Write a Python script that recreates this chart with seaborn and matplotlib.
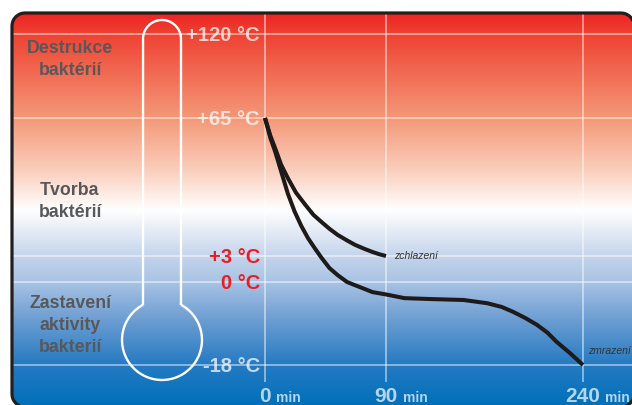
import numpy as np
import matplotlib
matplotlib.use("Agg")
import matplotlib.pyplot as plt
import seaborn as sns
from matplotlib import transforms
from matplotlib.patches import PathPatch
from matplotlib.path import Path

# data
time_ticks = [0, 90, 240]
temp_ticks = [-18, 0, 3, 65, 120]
temp_labels = ["-18 °C", "0 °C", "+3 °C", "+65 °C", "+120 °C"]
zone_lines = ["Destrukce", "baktérií", "Tvorba", "baktérií",
              "Zastavení", "aktivity", "bakterií"]

cool_min = [0, 4, 7.5, 12, 17, 23, 30, 36, 42, 48, 54, 61, 67, 74, 80, 85, 90]
cool_temp = [65, 57, 51.5, 44, 38, 31.5, 26, 21.5, 18.3, 15.2, 12.5, 10, 8.0, 6.2, 4.8, 3.8, 3]
freeze_min = [0, 4, 7.5, 12.5, 17, 22, 27, 32, 37, 42, 48, 54, 61, 67, 74, 80, 90,
              104, 124, 149, 167, 178, 187, 196, 205, 213, 220, 230, 240]
freeze_temp = [65, 56, 50, 40, 31, 23, 16.5, 11, 6.5, 2.8, 1.6, 0.8, 0.0, -0.7, -1.5, -2.2, -2.7,
               -3.5, -3.7, -3.9, -4.6, -5.4, -6.5, -7.8, -9.3, -11.0, -13.0, -15.4, -18]

# layout in pixels (y measured from the top)
W, H = 632, 405
x_px = [265, 386, 583]
y_px = [365, 282, 256, 118, 34]
zone_baselines = [53, 75, 195, 217, 308, 330, 352]
grad_y = [13, 34, 118, 170, 210, 256, 282, 320, 365, 405]
grad_rgb = [(237, 35, 36), (239, 66, 50), (244, 152, 120), (250, 206, 188), (255, 255, 255),
            (196, 212, 235), (168, 195, 228), (108, 157, 210), (36, 122, 194), (0, 112, 186)]


def piecewise(vals, pos):
    vals = np.asarray(vals, float)
    pos = np.asarray(pos, float)
    s0 = (pos[1] - pos[0]) / (vals[1] - vals[0])
    s1 = (pos[-1] - pos[-2]) / (vals[-1] - vals[-2])
    v = np.r_[vals[0] - 1e4, vals, vals[-1] + 1e4]
    p = np.r_[pos[0] - 1e4 * s0, pos, pos[-1] + 1e4 * s1]
    return (lambda a: np.interp(a, v, p)), (lambda a: np.interp(a, p, v))


def rounded_rect(x0, y0, x1, y1, r):
    pts = []
    for cx, cy, a0 in [(x1 - r, y0 + r, 90), (x1 - r, y1 - r, 0),
                       (x0 + r, y1 - r, -90), (x0 + r, y0 + r, -180)]:
        a = np.radians(np.linspace(a0, a0 - 90, 12))
        pts.append(np.c_[cx + r * np.cos(a), cy - r * np.sin(a)])
    pts = np.vstack(pts + [pts[0][:1]])
    return Path(pts, closed=True)


fx, fx_inv = piecewise(time_ticks, x_px)
fy, fy_inv = piecewise(temp_ticks, [H - y for y in y_px])

sns.set_style("white")
plt.rcParams["font.family"] = ["Liberation Sans", "DejaVu Sans"]

fig = plt.figure(figsize=(6.32, 4.05), dpi=100)
ax = fig.add_axes([0, 0, 1, 1])
px = transforms.Affine2D().scale(1 / W, -1 / H).translate(0, 1) + fig.transFigure

panel = PathPatch(rounded_rect(12, 13, 634, 407, 13), transform=px, facecolor="none",
                  edgecolor="#231f20", lw=2.3, zorder=10, clip_on=False)
ax.add_patch(panel)

# background gradient
rows = np.arange(H) + 0.5
grad = np.stack([np.interp(rows, grad_y, [c[i] for c in grad_rgb]) for i in range(3)], axis=-1) / 255
im = ax.imshow(grad[:, None, :], extent=[0, 1, 0, 1], transform=ax.transAxes,
               aspect="auto", origin="upper", interpolation="bilinear", zorder=0)
im.set_clip_path(panel)

# curves
for xs, ys in [(cool_min, cool_temp), (freeze_min, freeze_temp)]:
    sns.lineplot(x=xs, y=ys, ax=ax, color="#1e1a1a", lw=2.9, sort=False,
                 estimator=None, zorder=5, solid_joinstyle="round", solid_capstyle="butt")

ax.set_xscale("function", functions=(fx, fx_inv))
ax.set_yscale("function", functions=(fy, fy_inv))
ax.set_xlim(fx_inv(0), fx_inv(W))
ax.set_ylim(fy_inv(0), fy_inv(H))
ax.set_axis_off()

# grid
for t in temp_ticks:
    ln = ax.axhline(t, color="white", alpha=0.55, lw=1.2, zorder=1)
    ln.set_clip_path(panel)
vl = ax.vlines(time_ticks, fy_inv(H - 382), fy_inv(H), color="white", alpha=0.55, lw=1.2, zorder=1)
vl.set_clip_path(panel)

# thermometer outline
a1 = np.linspace(np.pi, 0, 40)
t_top = np.c_[162 + 19 * np.cos(a1), 39 - 19 * np.sin(a1)]
th0 = np.arcsin(35.2 / 40)
a2 = np.linspace(th0, -np.pi - th0, 120)
bulb = np.c_[162 + 40 * np.cos(a2), 340 - 40 * np.sin(a2)]
verts = np.vstack([[143, 305], t_top, [181, 305], bulb])
ax.add_patch(PathPatch(Path(verts), transform=px, facecolor="none", edgecolor="white",
                       lw=1.7, zorder=3, clip_on=False))

# temperature labels
for t, lab in zip(temp_ticks, temp_labels):
    red = t in (0, 3)
    ax.annotate(lab, xy=(0, t), xytext=(-5, -7), textcoords="offset pixels",
                ha="right", va="baseline", fontsize=14.5, weight="bold",
                color="#ed1c24" if red else "white", alpha=1 if red else 0.72, zorder=6)

# time labels
bt = transforms.blended_transform_factory(ax.transData, px)
for m in time_ticks:
    num = ax.text(m, 402, str(m), transform=bt, ha="center", va="baseline", fontsize=15,
                  weight="bold", color="white", alpha=0.7, zorder=6)
    ax.annotate("min", xy=(1, 0), xycoords=num, xytext=(5, 1.5), textcoords="offset pixels",
                ha="left", va="bottom", fontsize=10, weight="bold", color="white",
                alpha=0.7, zorder=6)

# zone labels
for txt, yb in zip(zone_lines, zone_baselines):
    ax.text(70, yb, txt, transform=px, ha="center", va="baseline", fontsize=12.8,
            weight="bold", color="#58585a", zorder=6)

# curve labels
ax.annotate("zchlazení", xy=(cool_min[-1], cool_temp[-1]), xytext=(8, 0),
            textcoords="offset pixels", ha="left", va="center", fontsize=7.5,
            style="italic", color="#333333", zorder=6)
ax.annotate("zmrazení", xy=(freeze_min[-1], freeze_temp[-1]), xytext=(5, 11),
            textcoords="offset pixels", ha="left", va="baseline", fontsize=7.5,
            style="italic", color="#333333", zorder=6)

fig.savefig("out.png", dpi=100)
